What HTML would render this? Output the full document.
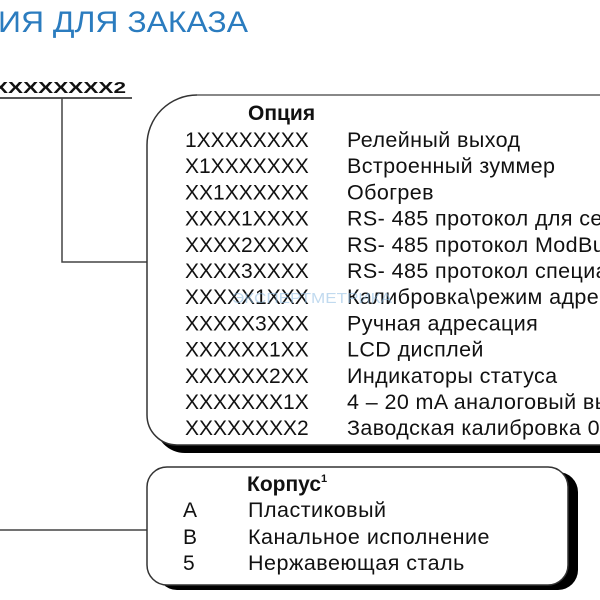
<!DOCTYPE html>
<html>
<head>
<meta charset="utf-8">
<style>
  html, body { margin: 0; padding: 0; background: #fff; }
  body { width: 600px; height: 600px; overflow: hidden; }
  svg { display: block; }
  text { font-family: "Liberation Sans", "Noto Sans CJK SC", sans-serif; }
</style>
</head>
<body>
<svg width="600" height="600" viewBox="0 0 600 600" xmlns="http://www.w3.org/2000/svg">
  <rect x="0" y="0" width="600" height="600" fill="#fff"/>

  <!-- Title -->
  <text x="-2" y="32" font-size="30" fill="#2b7cbf" textLength="250" lengthAdjust="spacingAndGlyphs">ИЯ ДЛЯ ЗАКАЗА</text>

  <!-- Part number -->
  <text x="-7" y="93" font-size="15.5" font-weight="bold" fill="#111" textLength="133" lengthAdjust="spacingAndGlyphs">XXXXXXXX2</text>
  <line x1="0" y1="98" x2="132" y2="98" stroke="#555" stroke-width="2"/>

  <!-- Connector to big box -->
  <polyline points="62,98 62,262 147,262" fill="none" stroke="#444" stroke-width="1.5"/>

  <!-- Connector to small box -->
  <line x1="0" y1="530" x2="147" y2="530" stroke="#444" stroke-width="1.5"/>

  <!-- Big box shadow -->
  <path d="M 710 103 L 205 103 A 50 50 0 0 0 155 153 L 155 423 A 30 30 0 0 0 185 453 L 710 453 Z" fill="#000"/>
  <!-- Big box -->
  <path d="M 710 95 L 197 95 A 50 50 0 0 0 147 145 L 147 415 A 30 30 0 0 0 177 445 L 710 445 Z" fill="#fff" stroke="#333" stroke-width="1.5"/>
  <line x1="197" y1="95" x2="600" y2="95" stroke="#888" stroke-width="2"/>

  <!-- Big box text -->
  <g font-size="21" fill="#111">
    <text x="248" y="120" font-weight="bold">Опция</text>
    <text x="185" y="147">1XXXXXXXX</text>
    <text x="185" y="173.2">X1XXXXXXX</text>
    <text x="185" y="199.4">XX1XXXXXX</text>
    <text x="185" y="225.6">XXXX1XXXX</text>
    <text x="185" y="251.8">XXXX2XXXX</text>
    <text x="185" y="278">XXXX3XXXX</text>
    <text x="185" y="304.2">XXXXX1XXX</text>
    <text x="185" y="330.4">XXXXX3XXX</text>
    <text x="185" y="356.6">XXXXXX1XX</text>
    <text x="185" y="382.8">XXXXXX2XX</text>
    <text x="185" y="409">XXXXXXX1X</text>
    <text x="185" y="435.2">XXXXXXXX2</text>
  </g>
  <g font-size="21.5" fill="#111" letter-spacing="0.4">
    <text x="347" y="147">Релейный выход</text>
    <text x="347" y="173.2">Встроенный зуммер</text>
    <text x="347" y="199.4">Обогрев</text>
    <text x="347" y="225.6">RS- 485 протокол для сетей</text>
    <text x="347" y="251.8">RS- 485 протокол ModBus</text>
    <text x="347" y="278">RS- 485 протокол специальный</text>
    <text x="347" y="304.2">Калибровка\режим адресации</text>
    <text x="347" y="330.4">Ручная адресация</text>
    <text x="347" y="356.6">LCD дисплей</text>
    <text x="347" y="382.8">Индикаторы статуса</text>
    <text x="347" y="409">4 – 20 mA аналоговый выход</text>
    <text x="347" y="435.2">Заводская калибровка 0</text>
  </g>

  <!-- faint watermark -->
  <text x="232" y="303" font-size="15" fill="#8fbde3" opacity="0.55" textLength="160" lengthAdjust="spacingAndGlyphs">ЭКСПЕРТМЕТРИКА</text>

  <!-- Small box shadow -->
  <rect x="157" y="472" width="421" height="118" rx="20" ry="20" fill="#000"/>
  <!-- Small box -->
  <rect x="147" y="467" width="421" height="118" rx="20" ry="20" fill="#fff" stroke="#333" stroke-width="1.5"/>

  <!-- Small box text -->
  <g font-size="21" fill="#111">
    <text x="247" y="491" font-weight="bold">Корпус<tspan font-size="11" dy="-9">1</tspan></text>
    <text x="183" y="517">A</text>
    <text x="183" y="544">B</text>
    <text x="183" y="570">5</text>
  </g>
  <g font-size="21.5" fill="#111" letter-spacing="0.5">
    <text x="248" y="517">Пластиковый</text>
    <text x="248" y="544">Канальное исполнение</text>
    <text x="248" y="570">Нержавеющая сталь</text>
  </g>
</svg>
</body>
</html>
